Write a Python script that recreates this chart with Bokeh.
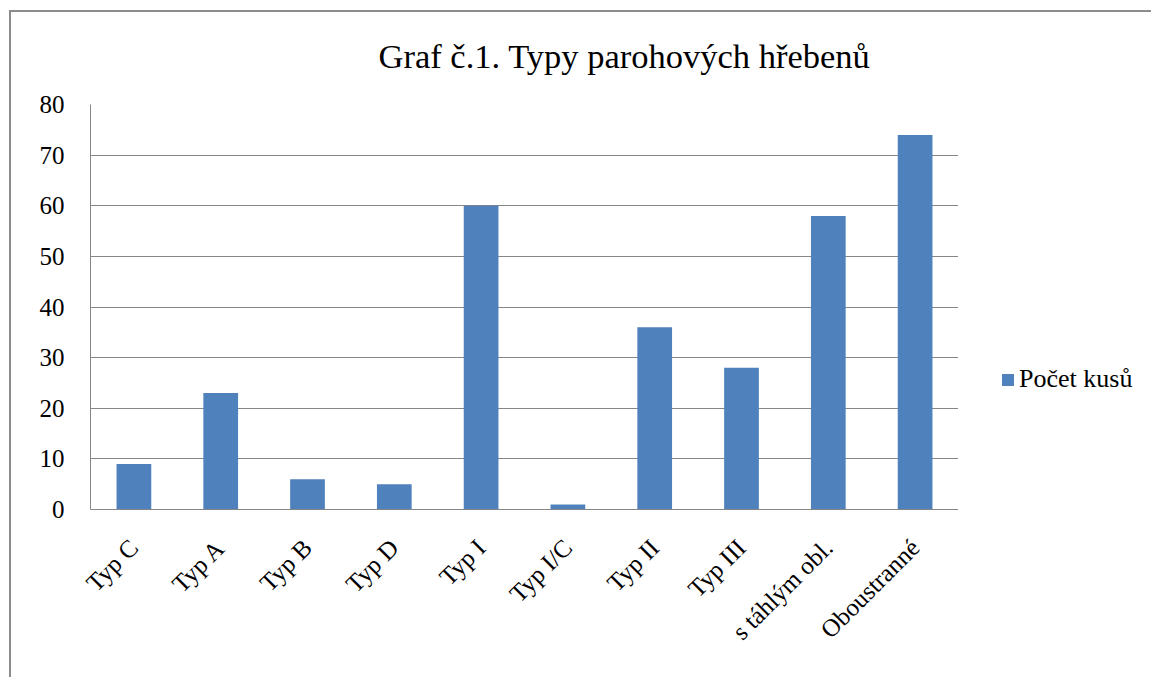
import math
from bokeh.plotting import figure
from bokeh.layouts import row
from bokeh.models import ColumnDataSource, Legend, LegendItem, FixedTicker, Title
from bokeh.embed import file_html
from bokeh.resources import INLINE

categories = ["Typ C", "Typ A", "Typ B", "Typ D", "Typ I", "Typ I/C",
              "Typ II", "Typ III", "s táhlým obl.", "Oboustranné"]
counts = [9, 23, 6, 5, 60, 1, 36, 28, 58, 74]
y_ticks = [0, 10, 20, 30, 40, 50, 60, 70, 80]
series_name = "Počet kusů"
title_text = "Graf č.1. Typy parohových hřebenů"

FONT = "Liberation Serif"
GRAY = "#868686"
BLUE = "#4F81BD"
FRAME_GRAY = "#8c8c8c"

src = ColumnDataSource(dict(cat=categories, val=counts))

p = figure(x_range=categories, y_range=(0, 80), width=949, height=672,
           output_backend="svg", toolbar_location=None,
           min_border_left=81, min_border_right=0, min_border_top=99,
           min_border_bottom=168)
p.x_range.range_padding = 0
p.border_fill_alpha = 0

r = p.vbar(x="cat", top="val", width=0.4, source=src, fill_color=BLUE, line_color=None)

p.title = Title(text=title_text, align="left", offset=288, text_font=FONT,
                text_font_size="34.5px", text_font_style="normal", text_color="black",
                standoff=59)

p.outline_line_color = None
p.xgrid.grid_line_color = None
p.ygrid.grid_line_color = GRAY
p.ygrid.grid_line_width = 1

p.yaxis.ticker = FixedTicker(ticks=y_ticks)
p.yaxis.axis_line_color = GRAY
p.yaxis.major_tick_out = 0
p.yaxis.major_tick_in = 0
p.yaxis.minor_tick_line_color = None
p.yaxis.major_label_text_font = FONT
p.yaxis.major_label_text_font_size = "25px"
p.yaxis.major_label_text_color = "black"
p.yaxis.major_label_standoff = 26

p.xaxis.axis_line_color = GRAY
p.xaxis.major_tick_out = 0
p.xaxis.major_tick_in = 0
p.xaxis.major_label_orientation = math.pi / 4
p.xaxis.major_label_text_font = FONT
p.xaxis.major_label_text_font_size = "25px"
p.xaxis.major_label_text_color = "black"
p.xaxis.major_label_standoff = 34

# legend panel (separate canvas to the right of the plot area; frames are aligned)
lp = figure(width=193, height=672, x_range=categories, y_range=(0, 80),
            output_backend="svg", toolbar_location=None,
            min_border_left=0, min_border_right=0, min_border_top=99, min_border_bottom=168)
lp.axis.visible = False
lp.grid.visible = False
lp.outline_line_color = None
lp.border_fill_alpha = 0
lr = lp.vbar(x="cat", top="val", width=0.4, source=src, fill_color=BLUE, line_color=None)
lr.visible = False

legend = Legend(items=[LegendItem(label=series_name, renderers=[lr])],
                location=(42, 115), padding=0, margin=0, spacing=0,
                glyph_width=15, glyph_height=15, label_standoff=4,
                border_line_color=None, background_fill_alpha=0,
                inactive_fill_alpha=0,
                label_text_font=FONT, label_text_font_size="26px",
                label_text_color="black")
lp.add_layout(legend)

layout = row(p, lp)
# chart-area frame: top and left edges (right/bottom edges lie outside the window)
layout.styles = {
    "margin-left": "9px", "margin-top": "5px",
    "background-image": f"linear-gradient({FRAME_GRAY}, {FRAME_GRAY}), linear-gradient({FRAME_GRAY}, {FRAME_GRAY})",
    "background-size": "100% 2px, 2px 100%",
    "background-position": "0 5px, 0 5px",
    "background-repeat": "no-repeat",
}

open("out.html", "w").write(file_html(layout, INLINE))
